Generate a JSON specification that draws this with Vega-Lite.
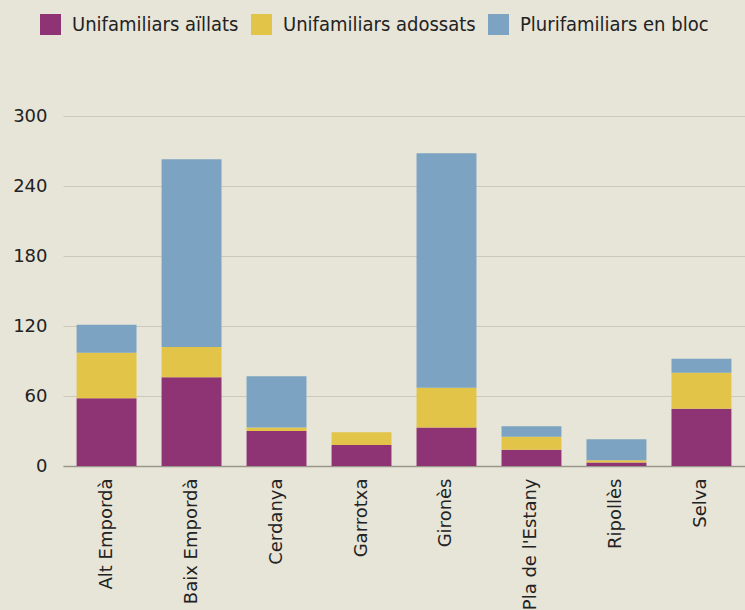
{
  "$schema": "https://vega.github.io/schema/vega-lite/v6.json",
  "width": 682,
  "height": 350,
  "autosize": "none",
  "padding": {"left": 63, "top": 116, "right": 0, "bottom": 144},
  "background": "#e7e4d8",
  "config": {
    "view": {"stroke": null},
    "font": "DejaVu Sans"
  },
  "data": {
    "values": [
      {"comarca": "Alt Empordà", "tipus": "Unifamiliars aïllats", "habitatges": 58},
      {"comarca": "Alt Empordà", "tipus": "Unifamiliars adossats", "habitatges": 39},
      {"comarca": "Alt Empordà", "tipus": "Plurifamiliars en bloc", "habitatges": 24},
      {"comarca": "Baix Empordà", "tipus": "Unifamiliars aïllats", "habitatges": 76},
      {"comarca": "Baix Empordà", "tipus": "Unifamiliars adossats", "habitatges": 26},
      {"comarca": "Baix Empordà", "tipus": "Plurifamiliars en bloc", "habitatges": 161},
      {"comarca": "Cerdanya", "tipus": "Unifamiliars aïllats", "habitatges": 30},
      {"comarca": "Cerdanya", "tipus": "Unifamiliars adossats", "habitatges": 3},
      {"comarca": "Cerdanya", "tipus": "Plurifamiliars en bloc", "habitatges": 44},
      {"comarca": "Garrotxa", "tipus": "Unifamiliars aïllats", "habitatges": 18},
      {"comarca": "Garrotxa", "tipus": "Unifamiliars adossats", "habitatges": 11},
      {"comarca": "Garrotxa", "tipus": "Plurifamiliars en bloc", "habitatges": 0},
      {"comarca": "Gironès", "tipus": "Unifamiliars aïllats", "habitatges": 33},
      {"comarca": "Gironès", "tipus": "Unifamiliars adossats", "habitatges": 34},
      {"comarca": "Gironès", "tipus": "Plurifamiliars en bloc", "habitatges": 201},
      {"comarca": "Pla de l'Estany", "tipus": "Unifamiliars aïllats", "habitatges": 14},
      {"comarca": "Pla de l'Estany", "tipus": "Unifamiliars adossats", "habitatges": 11},
      {"comarca": "Pla de l'Estany", "tipus": "Plurifamiliars en bloc", "habitatges": 9},
      {"comarca": "Ripollès", "tipus": "Unifamiliars aïllats", "habitatges": 3},
      {"comarca": "Ripollès", "tipus": "Unifamiliars adossats", "habitatges": 2},
      {"comarca": "Ripollès", "tipus": "Plurifamiliars en bloc", "habitatges": 18},
      {"comarca": "Selva", "tipus": "Unifamiliars aïllats", "habitatges": 49},
      {"comarca": "Selva", "tipus": "Unifamiliars adossats", "habitatges": 31},
      {"comarca": "Selva", "tipus": "Plurifamiliars en bloc", "habitatges": 12}
    ]
  },
  "mark": {"type": "bar"},
  "encoding": {
    "x": {
      "field": "comarca",
      "type": "nominal",
      "sort": null,
      "title": null,
      "scale": {"paddingInner": 0.295, "paddingOuter": 0.16},
      "axis": {
        "labelAngle": -90,
        "labelAlign": "right",
        "labelBaseline": "middle",
        "labelFontSize": 18,
        "labelColor": "#222222",
        "labelPadding": 12,
        "labelLimit": 200,
        "ticks": false,
        "domainColor": "#9a968c",
        "domainWidth": 1.5,
        "grid": false
      }
    },
    "y": {
      "field": "habitatges",
      "type": "quantitative",
      "stack": "zero",
      "title": null,
      "scale": {"domain": [0, 300], "nice": false},
      "axis": {
        "values": [0, 60, 120, 180, 240, 300],
        "labelFontSize": 18,
        "labelColor": "#222222",
        "labelPadding": 16,
        "ticks": false,
        "domain": false,
        "gridColor": "#cdc9ba",
        "gridWidth": 1
      }
    },
    "color": {
      "field": "tipus",
      "type": "nominal",
      "scale": {
        "domain": ["Unifamiliars aïllats", "Unifamiliars adossats", "Plurifamiliars en bloc"],
        "range": ["#8e3475", "#e2c548", "#7ca3c1"]
      },
      "legend": {
        "title": null,
        "orient": "none",
        "direction": "horizontal",
        "legendX": -23,
        "legendY": -102,
        "symbolType": "square",
        "symbolSize": 441,
        "symbolStrokeWidth": 0,
        "symbolOpacity": 1,
        "labelFont": "DejaVu Sans Condensed",
        "labelFontSize": 20,
        "labelColor": "#222222",
        "labelOffset": 11,
        "columnPadding": 12,
        "labelLimit": 300
      }
    },
    "order": {"field": "tipus", "sort": "descending"}
  }
}
